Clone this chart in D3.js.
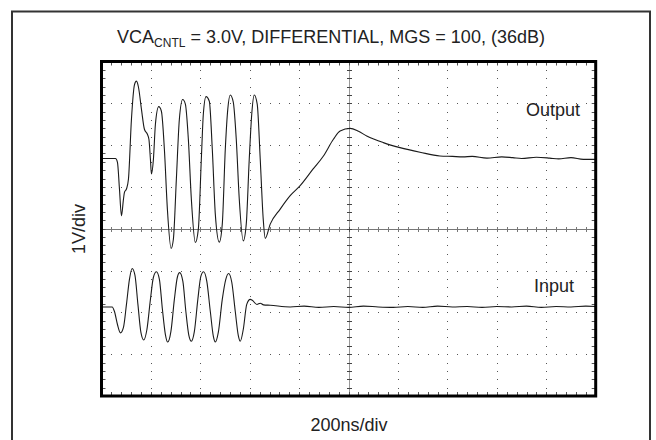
<!DOCTYPE html>
<html><head><meta charset="utf-8">
<script src="https://cdn.jsdelivr.net/npm/d3@7"></script>
<style>body{margin:0;background:#fff}svg{display:block;font-family:"Liberation Sans",Arial,sans-serif}</style>
</head><body><svg id="c" width="656" height="440"></svg>
<script>
// time in ns (200ns/div), voltage in V (1V/div)
const outT = [0,56.6,64.6,72.7,80.8,88.9,92.9,101,109.1,121.2,133.3,141.4,149.5,161.6,173.7,185.8,191.9,198,202,210.1,218.2,231.5,242.4,254.5,266.6,281.6,290.9,303,315.1,328.5,339.4,351.5,363.6,379.8,391.9,404,412.1,423,436.3,448.4,460.6,476.7,488.8,501,511.1,521.2,533.3,545.4,557.5,573.7,585.8,597.9,608,618.1,630.2,642.4,654.5,662.6,682.8,723.2,763.6,804,856.5,898.1,938.5,965.6,1006,1040,1073.4,1140.5,1208,1288.8,1369.6,1420,1462.5,1500,1560,1620,1664.5,1700,1760,1813.9,1850,1900,1950,2000];
const outV = [1.68,1.68,1.59,0.95,0.31,0.71,0.87,0.95,1.19,2.62,3.44,3.53,3.39,2.86,2.38,2.26,2.14,1.66,1.31,1.66,2.50,2.92,2.81,1.90,0.47,-0.47,-0.25,1.19,2.62,3.09,2.98,2.14,0.71,-0.33,-0.01,1.66,2.74,3.16,3.05,1.90,0.35,-0.32,0.11,1.90,2.86,3.20,3.03,2.14,0.71,-0.29,0.11,1.66,2.74,3.20,2.98,1.66,0.23,-0.23,0.11,0.47,0.79,1.03,1.43,1.74,2.14,2.34,2.40,2.33,2.22,2.06,1.94,1.83,1.74,1.73,1.72,1.73,1.69,1.72,1.70,1.68,1.71,1.69,1.67,1.70,1.66,1.66];
const inT = [0,43.2,52.5,64.6,76.8,88.9,101,113.1,124,135.3,147.4,159.5,170.9,183.8,198,210.1,222.2,234.3,246.4,258.6,267.9,280.8,294.9,307,316.3,329.3,341.4,353.5,363.6,375.7,389.9,402,413.3,426.2,440.4,452.5,460.6,472.7,488.8,503,514.3,527.2,541.4,553.5,561.6,573.7,587.8,601.9,610,629,642.4,655.7,682.8,763.6,820,880,940,1000,1060,1120,1180,1240,1300,1360,1420,1480,1540,1600,1660,1720,1780,1840,1900,1960,2000];
const inV = [-1.87,-1.87,-1.98,-2.29,-2.49,-2.36,-1.81,-1.21,-0.95,-1.11,-1.81,-2.48,-2.66,-2.41,-1.69,-1.16,-1.03,-1.21,-1.92,-2.53,-2.71,-2.46,-1.69,-1.16,-1.05,-1.26,-1.98,-2.55,-2.69,-2.46,-1.69,-1.14,-1.03,-1.26,-1.98,-2.57,-2.71,-2.48,-1.69,-1.21,-1.07,-1.28,-1.98,-2.55,-2.69,-2.41,-1.81,-1.69,-1.71,-1.81,-1.78,-1.82,-1.83,-1.87,-1.85,-1.88,-1.86,-1.88,-1.85,-1.87,-1.88,-1.86,-1.88,-1.85,-1.87,-1.86,-1.88,-1.86,-1.87,-1.85,-1.88,-1.86,-1.87,-1.85,-1.86];
const titleMain = "VCA", titleSub = "CNTL", titleRest = " = 3.0V, DIFFERENTIAL, MGS = 100, (36dB)";
const yLabel = "1V/div", xLabel = "200ns/div";
const labels = [{text:"Output"},{text:"Input"}];

const svg = d3.select("#c");
const x = d3.scaleLinear().domain([0,2000]).range([101.5,595.7]);
const y = d3.scaleLinear().domain([-4,4]).range([396,61.5]);

// outer box
svg.append("rect").attr("x",12).attr("y",11.5).attr("width",638).attr("height",460)
  .attr("fill","none").attr("stroke","#333").attr("stroke-width",2);

// title
const t = svg.append("text").attr("x",331).attr("y",43).attr("text-anchor","middle")
  .attr("font-size",18).attr("fill","#222");
t.append("tspan").text(titleMain);
t.append("tspan").attr("font-size",12).attr("dy",4).text(titleSub);
t.append("tspan").attr("dy",-4).text(titleRest);

const g = svg.append("g");
const xDivs = d3.range(0,2001,200), yDivs = d3.range(-4,4.01,1);
const xSub = d3.range(0,2000.1,40), ySub = d3.range(-4,4.001,0.2);
const dotC = "#555";
// grid dots
xDivs.filter(d=>d>0&&d<2000&&d!==1000).forEach(d=>{
  g.selectAll(null).data(ySub.filter(v=>v>-4&&v<4)).enter().append("rect")
   .attr("x",Math.round(x(d))).attr("y",v=>Math.round(y(v))).attr("width",1).attr("height",1).attr("fill",dotC);
});
yDivs.filter(v=>v>-4&&v<4&&v!==0).forEach(v=>{
  g.selectAll(null).data(xSub.filter(d=>d>0&&d<2000)).enter().append("rect")
   .attr("x",d=>Math.round(x(d))).attr("y",Math.round(y(v))).attr("width",1).attr("height",1).attr("fill",dotC);
});
// center horizontal axis
g.append("line").attr("x1",x(0)).attr("x2",x(2000)).attr("y1",Math.round(y(0))+0.5).attr("y2",Math.round(y(0))+0.5)
  .attr("stroke","#777").attr("stroke-width",1);
g.selectAll(null).data(xSub).enter().append("line")
  .attr("x1",d=>Math.round(x(d))+0.5).attr("x2",d=>Math.round(x(d))+0.5)
  .attr("y1",Math.round(y(0))-2).attr("y2",Math.round(y(0))+3).attr("stroke","#777");
// center vertical axis
g.append("line").attr("x1",Math.round(x(1000))+0.5).attr("x2",Math.round(x(1000))+0.5).attr("y1",y(4)).attr("y2",y(-4))
  .attr("stroke","#333").attr("stroke-dasharray","1,1");
g.selectAll(null).data(ySub).enter().append("line")
  .attr("x1",Math.round(x(1000))-2).attr("x2",Math.round(x(1000))+3)
  .attr("y1",v=>Math.round(y(v))+0.5).attr("y2",v=>Math.round(y(v))+0.5).attr("stroke","#444");
// frame ticks
g.selectAll(null).data(xSub).enter().append("line")
  .attr("x1",d=>Math.round(x(d))+0.5).attr("x2",d=>Math.round(x(d))+0.5)
  .attr("y1",y(4)).attr("y2",y(4)+4).attr("stroke","#555");
g.selectAll(null).data(xSub).enter().append("line")
  .attr("x1",d=>Math.round(x(d))+0.5).attr("x2",d=>Math.round(x(d))+0.5)
  .attr("y1",y(-4)).attr("y2",y(-4)-4).attr("stroke","#555");
g.selectAll(null).data(ySub).enter().append("line")
  .attr("x1",x(0)).attr("x2",x(0)+4)
  .attr("y1",v=>Math.round(y(v))+0.5).attr("y2",v=>Math.round(y(v))+0.5).attr("stroke","#555");
g.selectAll(null).data(ySub).enter().append("line")
  .attr("x1",x(2000)).attr("x2",x(2000)-4)
  .attr("y1",v=>Math.round(y(v))+0.5).attr("y2",v=>Math.round(y(v))+0.5).attr("stroke","#555");

// waveforms
const line = d3.line().x(d=>x(d[0])).y(d=>y(d[1])).curve(d3.curveMonotoneX);
[[outT,outV],[inT,inV]].forEach(([T,V])=>{
  svg.append("path").datum(T.map((tt,i)=>[tt,V[i]])).attr("d",line)
    .attr("fill","none").attr("stroke","#1a1a1a").attr("stroke-width",1.1);
});

// frame
svg.append("rect").attr("x",101.5).attr("y",61.5).attr("width",494.2).attr("height",334.5)
  .attr("fill","none").attr("stroke","#000").attr("stroke-width",3);

// labels
svg.append("text").attr("x",526).attr("y",116).attr("font-size",18).attr("fill","#222").text(labels[0].text);
svg.append("text").attr("x",534).attr("y",292).attr("font-size",18).attr("fill","#222").text(labels[1].text);
svg.append("text").attr("transform","translate(85,229) rotate(-90)").attr("text-anchor","middle")
  .attr("font-size",18).attr("fill","#222").text(yLabel);
svg.append("text").attr("x",349).attr("y",431).attr("text-anchor","middle")
  .attr("font-size",18).attr("fill","#222").text(xLabel);
</script></body></html>
